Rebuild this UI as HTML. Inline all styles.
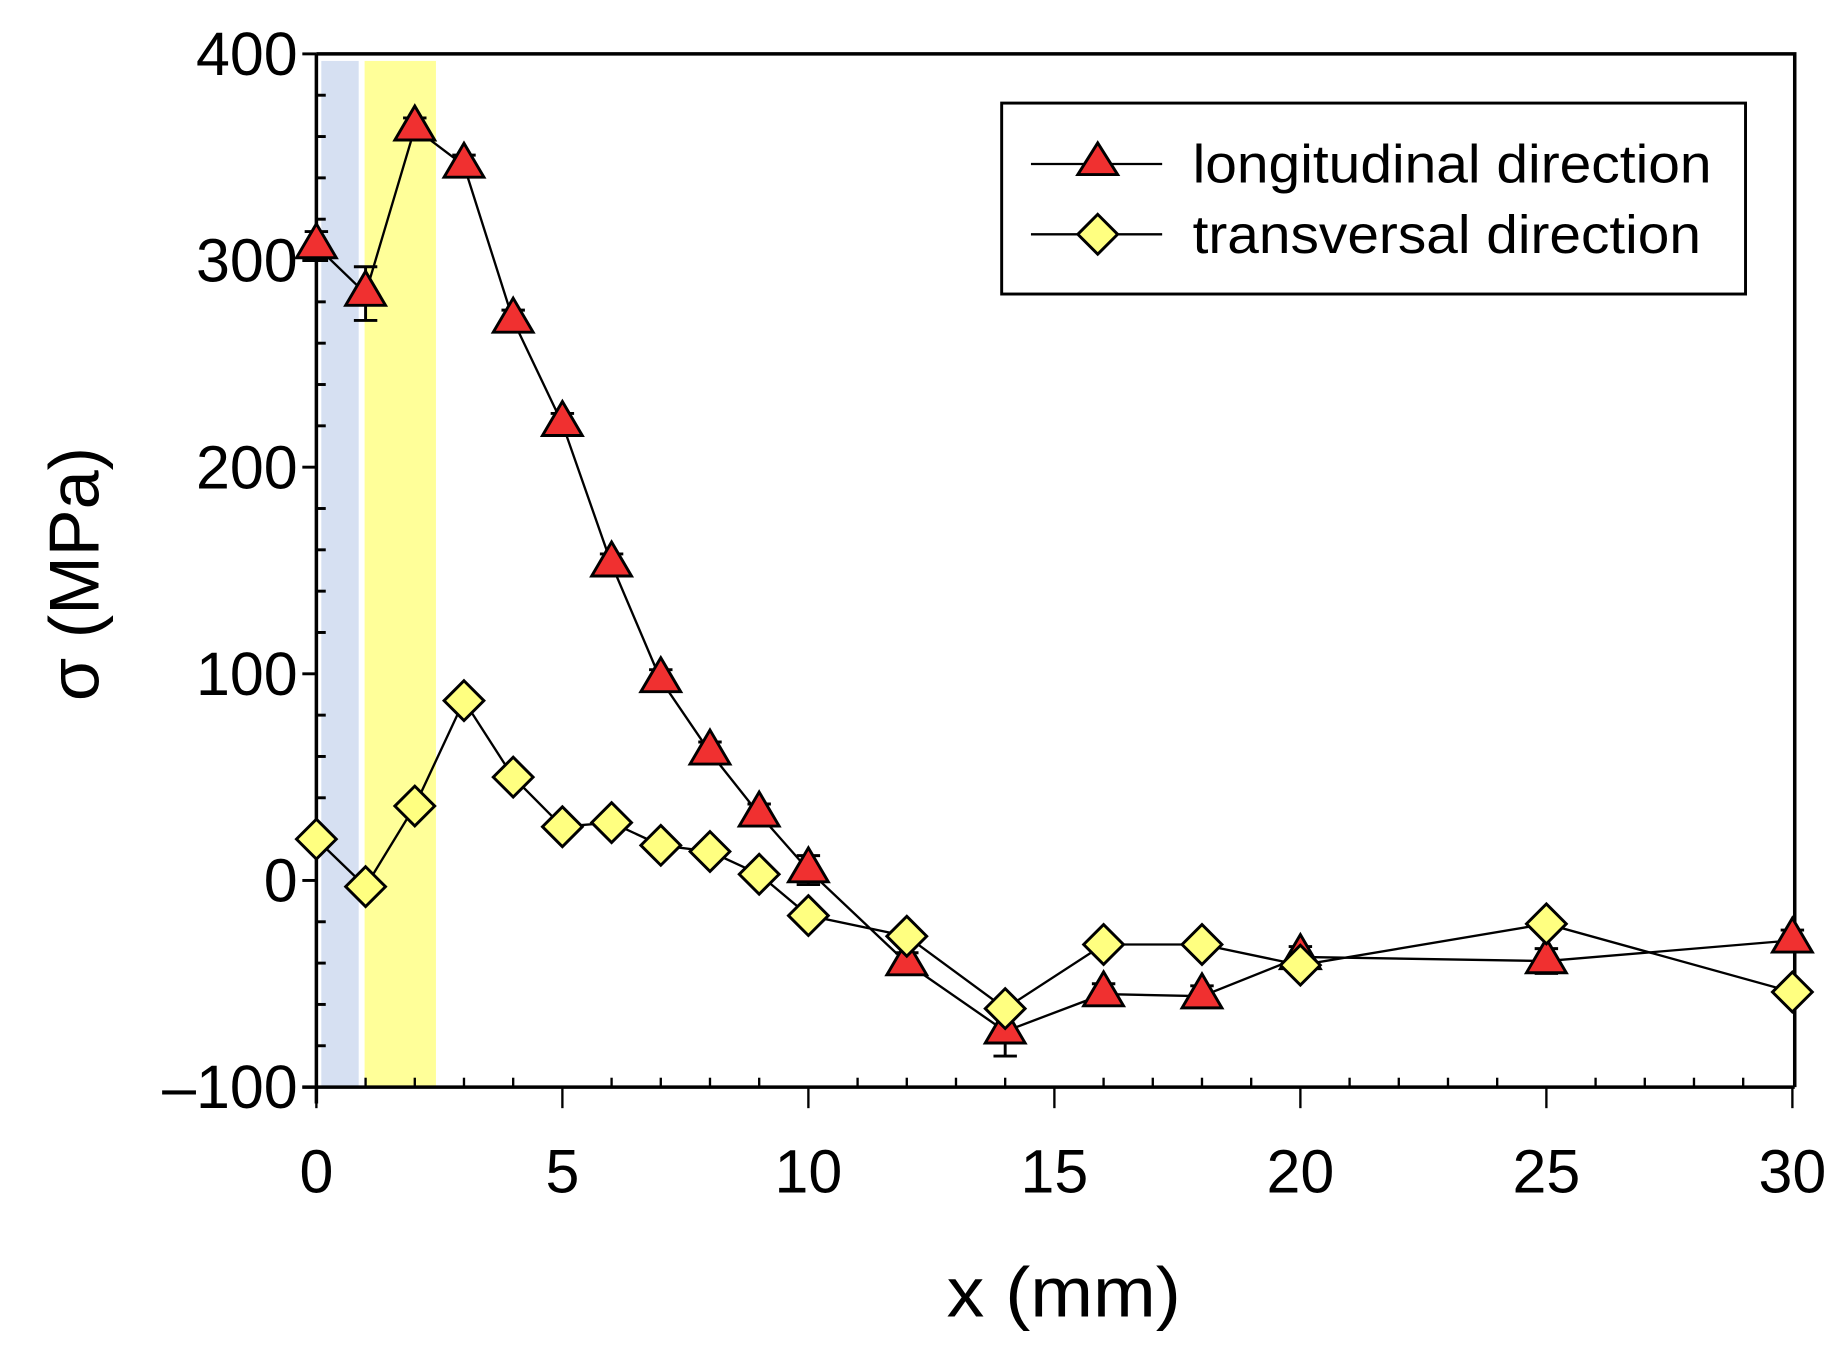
<!DOCTYPE html>
<html><head><meta charset="utf-8"><style>
html,body{margin:0;padding:0;background:#fff;}
svg{display:block;font-family:"Liberation Sans",Arial,sans-serif;}
</style></head><body>
<svg id="chart" width="1837" height="1353" viewBox="0 0 1568 1155" xmlns="http://www.w3.org/2000/svg">
<g id="bands"></g>
<g id="axes"></g>
<g id="series"></g>
<g id="legend">
  <rect x="855" y="88" width="635" height="163" fill="#fff" stroke="#000" stroke-width="2.5"/>
  <g>
    <line x1="880" y1="140" x2="992" y2="140" stroke="#000" stroke-width="2"/>
    <polygon points="937,122 954,149 920,149" fill="#f03030" stroke="#000" stroke-width="2.5"/>
    <text x="1018" y="156" font-size="46" textLength="443" lengthAdjust="spacingAndGlyphs">longitudinal direction</text>
  </g>
  <g>
    <line x1="880" y1="200" x2="992" y2="200" stroke="#000" stroke-width="2"/>
    <polygon points="937,183 954,200 937,217 920,200" fill="#ffff80" stroke="#000" stroke-width="2.5"/>
    <text x="1018" y="216" font-size="46" textLength="434" lengthAdjust="spacingAndGlyphs">transversal direction</text>
  </g>
</g>
<text x="908" y="1124" font-size="60" text-anchor="middle" textLength="200" lengthAdjust="spacingAndGlyphs">x (mm)</text>
<text transform="translate(84,490) rotate(-90)" font-size="60" text-anchor="middle">σ (MPa)</text>
</svg>
<script>
const xs = [0,1,2,3,4,5,6,7,8,9,10,12,14,16,18,20,25,30];
const longVals = [307,284,364,346,271,221,153,97,62,32,5,-40,-73,-55,-56,-37,-39,-29];
const longErr = [7,13,5,5,5,5,5,5,5,5,7,5,12,5,5,5,6,5];
const transVals = [20,-3,36,87,50,26,28,17,14,3,-17,-27,-62,-31,-31,-41,-21,-54];
const xTicks = [0,5,10,15,20,25,30];
const yTicks = [-100,0,100,200,300,400];

const L=270,R=1530,T=46,B=928;
const sx=v=>L+(v-0)/30*(R-L);
const sy=v=>B-(v+100)/500*(B-T);
const NS="http://www.w3.org/2000/svg";
function mk(tag,attrs,parent){const e=document.createElementNS(NS,tag);for(const k in attrs)e.setAttribute(k,attrs[k]);parent.appendChild(e);return e;}
const bands=document.getElementById('bands'),axes=document.getElementById('axes'),series=document.getElementById('series');

let b1=mk('rect',{x:sx(0.1),y:52,width:sx(0.86)-sx(0.1),height:B-52,fill:'#d6e0f2'},bands);


let b2=mk('rect',{x:sx(0.98),y:52,width:sx(2.43)-sx(0.98),height:B-52,fill:'#ffff99'},bands);



let fr=mk('path',{d:`M${L} ${T} H${R+2} V${B} M${L-12} ${B} H${R+2} M${L} ${T} V${B+14}`,fill:'none',stroke:'#000','stroke-width':3},axes);


for(let v=-80;v<400;v+=20){if(v%100===0)continue;mk('line',{x1:L,x2:L+8,y1:sy(v),y2:sy(v),stroke:'#000','stroke-width':2.5},axes);}
for(const v of yTicks){mk('line',{x1:L-12,x2:L,y1:sy(v),y2:sy(v),stroke:'#000','stroke-width':2.5},axes);
 let t=mk('text',{x:L-16,y:sy(v)+18,'font-size':52,'text-anchor':'end'},axes);t.textContent=v<0?'\u2013'+(-v):v;
 
 }
for(let v=1;v<30;v++){if(v%5===0)continue;mk('line',{x1:sx(v),x2:sx(v),y1:B,y2:B-8,stroke:'#000','stroke-width':2},axes);}
for(const v of xTicks){mk('line',{x1:sx(v),x2:sx(v),y1:B,y2:B+18,stroke:'#000','stroke-width':2},axes);
 let t=mk('text',{x:sx(v),y:1018,'font-size':52,'text-anchor':'middle'},axes);t.textContent=v;
 
 }

function line(vals,name){let d=xs.map((x,i)=>(i?'L':'M')+sx(x)+' '+sy(vals[i])).join(' ');
 let p=mk('path',{d,fill:'none',stroke:'#000','stroke-width':2},series);
 
 }
line(longVals,'longitudinal-line');line(transVals,'transversal-line');
xs.forEach((x,i)=>{const cx=sx(x),cy=sy(longVals[i]),e=longErr[i]*(B-T)/500;
 mk('path',{d:`M${cx} ${cy-e} V${cy+e} M${cx-10} ${cy-e} H${cx+10} M${cx-10} ${cy+e} H${cx+10}`,stroke:'#000','stroke-width':2.5,fill:'none'},series);
 let m=mk('polygon',{points:`${cx},${cy-19} ${cx+17},${cy+10} ${cx-17},${cy+10}`,fill:'#f03030',stroke:'#000','stroke-width':2.5},series);
 
 });
xs.forEach((x,i)=>{const cx=sx(x),cy=sy(transVals[i]);
 let m=mk('polygon',{points:`${cx},${cy-17} ${cx+17},${cy} ${cx},${cy+17} ${cx-17},${cy}`,fill:'#ffff80',stroke:'#000','stroke-width':2.5},series);
 
 });
</script>
</body></html>
